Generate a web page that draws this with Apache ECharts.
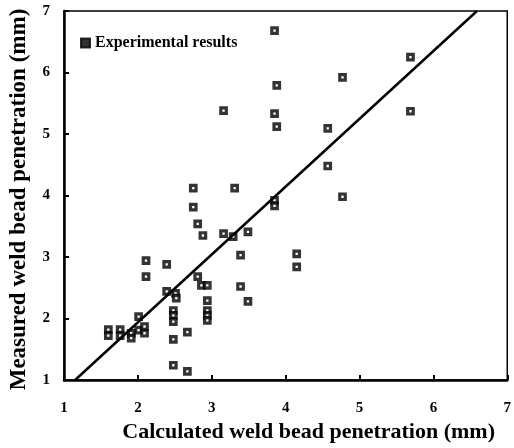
<!DOCTYPE html>
<html>
<head>
<meta charset="utf-8">
<script src="https://cdn.jsdelivr.net/npm/echarts@6/dist/echarts.min.js"></script>
</head>
<body style="margin:0;background:#fff">
<div id="main" style="width:514px;height:448px"></div>
<script>
// calculated vs measured penetration (mm)
var calcX = [3.85, 5.69, 4.77, 3.88, 3.85, 3.88, 5.69, 4.57, 4.57, 4.77, 3.85, 3.85,
  3.16, 2.75, 3.31, 2.75, 2.81, 2.88, 3.16, 3.29, 3.49, 3.39, 3.39, 3.49, 4.15, 4.15,
  2.11, 2.11, 2.39, 2.39, 2.51, 2.52, 2.81, 2.86, 2.94, 2.94, 2.94, 2.94, 2.94,
  2.48, 2.48, 2.48, 2.48, 2.48, 2.67, 2.67,
  1.6, 1.6, 1.76, 1.76, 1.91, 1.91, 2.01, 2.01, 2.09, 2.09];
var measY = [6.68, 6.25, 5.92, 5.79, 5.33, 5.12, 5.37, 5.09, 4.48, 3.98, 3.92, 3.83,
  5.38, 4.12, 4.12, 3.81, 3.54, 3.35, 3.38, 3.33, 3.41, 3.03, 2.52, 2.28, 3.05, 2.84,
  2.94, 2.68, 2.88, 2.44, 2.41, 2.33, 2.68, 2.54, 2.54, 2.29, 2.13, 2.05, 1.97,
  2.13, 2.05, 1.95, 1.66, 1.24, 1.78, 1.14,
  1.82, 1.72, 1.82, 1.72, 1.76, 1.68, 2.03, 1.81, 1.87, 1.76];
var fitX = [1.15, 6.59];
var fitY = [1, 7];

var pts = calcX.map(function (x, i) { return [x, measY[i]]; });
var fit = fitX.map(function (x, i) { return [x, fitY[i]]; });

var font = 'Liberation Serif';
var chart = echarts.init(document.getElementById('main'));
chart.setOption({
  animation: false,
  grid: { left: 61, right: 3, top: 11, bottom: 66, show: true, borderColor: '#000', borderWidth: 1.5 },
  legend: {
    data: [{ name: 'Experimental results', icon: 'rect', itemStyle: { color: '#000', borderColor: '#000' } }],
    left: 75, top: 30, itemWidth: 9, itemHeight: 9, itemGap: 6,
    textStyle: { fontFamily: font, fontWeight: 'bold', fontSize: 16, color: '#000' }
  },
  xAxis: {
    type: 'value', min: 1, max: 7, interval: 1,
    name: 'Calculated weld bead penetration (mm)', nameLocation: 'middle', nameGap: 41,
    nameTextStyle: { fontFamily: font, fontWeight: 'bold', fontSize: 22, color: '#000', padding: [0, 0, 0, 46] },
    axisLine: { lineStyle: { color: '#000', width: 2.5 } },
    axisTick: { inside: true, length: 5, lineStyle: { color: '#000', width: 2 } },
    axisLabel: { fontFamily: font, fontWeight: 'bold', fontSize: 15, color: '#000', margin: 21 },
    splitLine: { show: false }
  },
  yAxis: {
    type: 'value', min: 1, max: 7, interval: 1,
    name: 'Measured weld bead penetration (mm)', nameLocation: 'middle', nameGap: 33,
    nameTextStyle: { fontFamily: font, fontWeight: 'bold', fontSize: 23, color: '#000', padding: [0, 8, 0, 0] },
    axisLine: { lineStyle: { color: '#000', width: 2.5 } },
    axisTick: { inside: true, length: 5, lineStyle: { color: '#000', width: 2 } },
    axisLabel: { fontFamily: font, fontWeight: 'bold', fontSize: 15, color: '#000', margin: 14 },
    splitLine: { show: false }
  },
  series: [
    {
      name: 'Experimental results', type: 'scatter', data: pts,
      symbol: 'rect', symbolSize: 5.5,
      itemStyle: { color: '#fff', borderColor: '#000', borderWidth: 3.2 }
    },
    {
      name: 'fit', type: 'line', data: fit, showSymbol: false, silent: true,
      lineStyle: { color: '#000', width: 2.5 }
    }
  ]
});
</script>
</body>
</html>
